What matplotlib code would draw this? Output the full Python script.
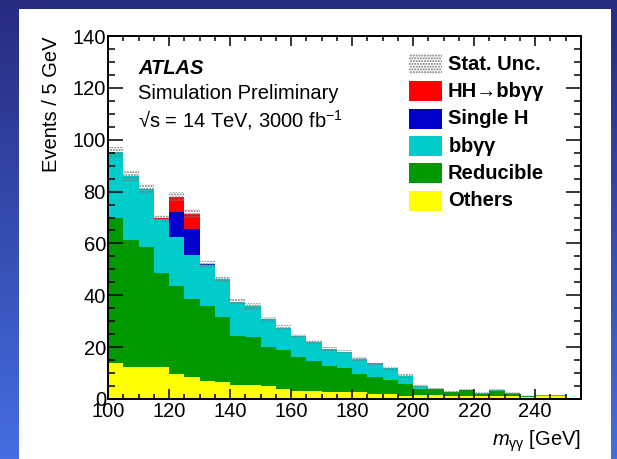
import numpy as np
import matplotlib

matplotlib.use("Agg")
import matplotlib.pyplot as plt
from matplotlib.patches import Rectangle
from matplotlib.ticker import MultipleLocator

plt.rcParams["font.family"] = ["Liberation Sans", "DejaVu Sans"]
plt.rcParams["mathtext.fontset"] = "custom"
plt.rcParams["mathtext.rm"] = "Liberation Sans"
plt.rcParams["mathtext.it"] = "Liberation Sans:italic"
plt.rcParams["mathtext.bf"] = "Liberation Sans:bold"

# m_gg binning, 5 GeV bins from 100 to 250 GeV
bin_edges = np.arange(100, 251, 5)

# stacked contributions per bin (events / 5 GeV)
others = [13.8, 12.5, 12.2, 12.5, 9.6, 8.6, 7.1, 6.6, 5.5, 5.4,
          5.0, 4.0, 3.2, 3.2, 2.7, 2.8, 2.6, 2.1, 2.1, 1.3,
          1.5, 1.4, 1.3, 1.3, 1.2, 1.2, 1.0, 0.8, 1.0, 1.0]
reducible = [56.0, 48.8, 46.4, 36.1, 34.1, 30.0, 28.8, 25.0, 18.7, 18.4,
             15.2, 14.9, 13.1, 11.5, 10.2, 9.2, 7.0, 6.4, 5.2, 4.5,
             2.4, 2.3, 1.3, 2.1, 0.9, 2.0, 1.1, 0.2, 0.3, 0.3]
bbyy = [25.3, 24.8, 22.2, 20.7, 18.9, 17.1, 15.8, 14.5, 13.3, 12.0,
        10.5, 8.6, 8.1, 7.1, 6.4, 6.2, 5.7, 5.3, 4.5, 3.0,
        1.3, 0.2, 0.1, 0.1, 0.1, 0.1, 0.1, 0.1, 0.1, 0.1]
single_h = [0.05, 0.05, 0.05, 0.2, 9.6, 9.9, 0.3, 0.05, 0.05, 0.05,
            0.05, 0.05, 0.05, 0.05, 0.05, 0.05, 0.05, 0.05, 0.05, 0.05,
            0.0, 0.0, 0.0, 0.0, 0.0, 0.0, 0.0, 0.0, 0.0, 0.0]
hh = [0.0, 0.0, 0.0, 0.2, 5.8, 5.9, 0.2, 0.0, 0.0, 0.0,
      0.0, 0.0, 0.0, 0.0, 0.0, 0.0, 0.0, 0.0, 0.0, 0.0,
      0.0, 0.0, 0.0, 0.0, 0.0, 0.0, 0.0, 0.0, 0.0, 0.0]
stat_unc = [2.1, 1.9, 1.9, 1.4, 1.8, 1.6, 1.2, 1.1, 1.0, 1.0,
            0.9, 0.9, 0.8, 0.8, 0.7, 0.7, 0.7, 0.6, 0.6, 0.6,
            0.5, 0.5, 0.4, 0.5, 0.4, 0.4, 0.4, 0.3, 0.3, 0.3]

# drawn bottom-up
components = [
    ("Others", others, "#ffff00"),
    ("Reducible", reducible, "#009900"),
    (r"bb$\mathbf{\gamma\gamma}$", bbyy, "#00cccc"),
    ("Single H", single_h, "#0000cc"),
    ("HH→bbγγ", hh, "#ff0000"),
]
HATCH_COLOR = "#777777"
FS = 14.5

W, H = 617, 459
fig = plt.figure(figsize=(W / 100, H / 100), dpi=100)

# slide-style blue backdrop with a white panel
bg = fig.add_axes([0, 0, 1, 1], zorder=-10)
rows = np.linspace(0, 1, 200)[:, None, None]
top_c = np.array([0.15, 0.17, 0.50])
bot_c = np.array([0.27, 0.43, 0.88])
grad = top_c * (1 - rows) + bot_c * rows
grad = np.repeat(grad, 2, axis=1)
bg.imshow(grad, aspect="auto", extent=[0, 1, 0, 1], origin="upper")
bg.add_patch(Rectangle((19 / W, 0), (611 - 19) / W, (H - 9) / H,
                       transform=bg.transAxes, facecolor="white", edgecolor="none"))
bg.set_xlim(0, 1)
bg.set_ylim(0, 1)
bg.axis("off")

ax = fig.add_axes([108 / W, (H - 399) / H, 473 / W, 363 / H])

base = np.zeros(len(others))
for label, vals, color in components:
    vals = np.asarray(vals, dtype=float)
    ax.stairs(base + vals, bin_edges, baseline=base.copy(), fill=True,
              facecolor=color, edgecolor="none", linewidth=0)
    base = base + vals

unc = np.asarray(stat_unc)
ax.stairs(base + unc, bin_edges, baseline=base - unc, fill=True,
          facecolor="none", edgecolor=HATCH_COLOR, hatch="......", linewidth=0)

ax.set_xlim(100, 255)
ax.set_ylim(0, 140)
ax.xaxis.set_major_locator(MultipleLocator(20))
ax.xaxis.set_minor_locator(MultipleLocator(5))
ax.yaxis.set_major_locator(MultipleLocator(20))
ax.yaxis.set_minor_locator(MultipleLocator(5))
ax.tick_params(which="both", direction="in", top=True, right=True,
               width=1.1, colors="black", labelsize=FS)
ax.xaxis.set_tick_params(which="major", length=7.5, pad=2.5)
ax.xaxis.set_tick_params(which="minor", length=3.8)
ax.yaxis.set_tick_params(which="major", length=10.5, pad=1.5)
ax.yaxis.set_tick_params(which="minor", length=5.2)
for sp in ax.spines.values():
    sp.set_linewidth(1.4)

ax.set_ylabel("Events / 5 GeV", fontsize=FS, loc="top")
ax.yaxis.set_label_coords(-0.1, 1.0)
ax.set_xlabel(r"$m_{\mathrm{\gamma\gamma}}$ [GeV]", fontsize=FS, loc="right")
ax.xaxis.set_label_coords(1.0, -0.08)

ax.text(0.0634, 0.895, "ATLAS", transform=ax.transAxes, fontsize=FS,
        fontweight="bold", fontstyle="italic", va="baseline")
ax.text(0.0634, 0.826, "Simulation Preliminary", transform=ax.transAxes,
        fontsize=FS, va="baseline")
ax.text(0.0634, 0.748, r"√s = 14 TeV, 3000 fb$^{-1}$", transform=ax.transAxes,
        fontsize=FS, va="baseline")

# legend boxes, drawn by hand in axes coordinates
legend_rows = [("Stat. Unc.", None)] + [(lab, col) for lab, _, col in reversed(components)]
legend_labels = ["Stat. Unc.", "HH→bbγγ", "Single H", r"bb$\mathbf{\gamma\gamma}$", "Reducible", "Others"]
box_x, box_w, box_h = 0.6374, 0.0677, 0.055
row_top, row_pitch = 0.950, 0.0752
for i, ((_, color), text) in enumerate(zip(legend_rows, legend_labels)):
    y0 = row_top - i * row_pitch - box_h
    if color is None:
        ax.add_patch(Rectangle((box_x, y0), box_w, box_h, transform=ax.transAxes,
                               facecolor="white", edgecolor=HATCH_COLOR,
                               hatch="......", linewidth=0))
    else:
        ax.add_patch(Rectangle((box_x, y0), box_w, box_h, transform=ax.transAxes,
                               facecolor=color, edgecolor="none"))
    ax.text(0.7188, y0 + box_h / 2, text, transform=ax.transAxes, fontsize=FS,
            fontweight="bold", va="center", ha="left")

fig.savefig("out.png", dpi=100)
